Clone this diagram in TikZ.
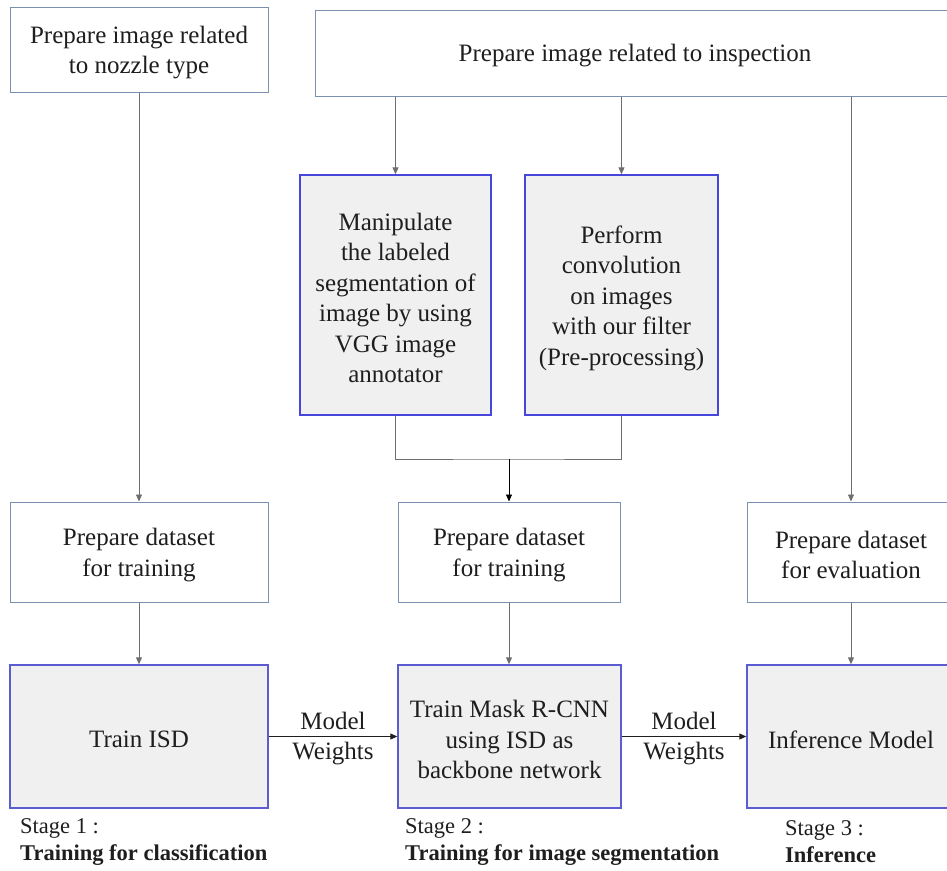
\documentclass[tikz,border=0pt]{standalone}
\usepackage{fontspec}
\setmainfont{Liberation Serif}
\usetikzlibrary{arrows.meta}

\definecolor{plainedge}{HTML}{7A90B0}
\definecolor{stepedge}{HTML}{4646DC}
\definecolor{trainedge}{HTML}{5C5CD2}
\definecolor{stepfill}{HTML}{F0F0F0}
\definecolor{wire}{HTML}{6E6E6E}
\definecolor{ink}{HTML}{1E1E1E}

\tikzset{
  every node/.style={text=ink, font=\fontsize{25}{30.5}\selectfont, align=center, inner sep=0pt},
  plainbox/.style={draw=plainedge, line width=1pt, fill=white, rectangle},
  stepbox/.style={draw=stepedge, line width=1.4pt, fill=stepfill, rectangle},
  trainbox/.style={draw=trainedge, line width=1.4pt, fill=stepfill, rectangle},
  % box text sits a little below the geometric centre
  caption/.style={label={[yshift=-3pt]center:{#1}}},
  wireline/.style={draw=wire, line width=0.9pt},
  flow/.style={wireline, -{Triangle[length=7pt,width=6pt]}},
  stagelabel/.style={anchor=west, align=left, font=\fontsize{22.5}{27}\selectfont},
}

\begin{document}
\begin{tikzpicture}[x=1pt, y=-1pt]
  \useasboundingbox (0,0) rectangle (947,870);
  \clip (0,0) rectangle (947,870);

  % sources
  \node[plainbox, minimum width=258pt, minimum height=85pt,
        caption={Prepare image related\\to nozzle type}] (nozzle) at (139,49.5) {};
  \node[plainbox, minimum width=640pt, minimum height=86pt,
        caption={Prepare image related to inspection}] (inspect) at (635,53) {};

  % pre-processing steps
  \node[stepbox, minimum width=191pt, minimum height=240pt,
        caption={Manipulate\\the labeled\\segmentation of\\image by using\\VGG image\\annotator}]
        (annot) at (395.5,295) {};
  \node[stepbox, minimum width=193pt, minimum height=240pt,
        caption={Perform\\convolution\\on images\\with our filter\\(Pre-processing)}]
        (conv) at (621.5,295) {};

  % datasets
  \node[plainbox, minimum width=258pt, minimum height=100pt,
        caption={Prepare dataset\\for training}] (ds1) at (139,552) {};
  \node[plainbox, minimum width=222pt, minimum height=100pt,
        caption={Prepare dataset\\for training}] (ds2) at (509,552) {};
  \node[plainbox, minimum width=208pt, minimum height=100pt,
        caption={Prepare dataset\\for evaluation}] (ds3) at (851,552) {};

  % models
  \node[trainbox, minimum width=258pt, minimum height=143pt,
        caption={Train ISD}] (isd) at (139,736.5) {};
  \node[trainbox, minimum width=223pt, minimum height=143pt,
        caption={Train Mask R-CNN\\using ISD as\\backbone network}] (mrcnn) at (509.5,736.5) {};
  \node[trainbox, minimum width=208pt, minimum height=143pt,
        caption={Inference Model}] (infer) at (851,736.5) {};

  % stage captions
  \node[stagelabel] (st1) at (20,842) {Stage 1 :\\\textbf{Training for classification}};
  \node[stagelabel] (st2) at (405,842) {Stage 2 :\\\textbf{Training for image segmentation}};
  \node[stagelabel] (st3) at (785,842) {Stage 3 :\\\textbf{Inference}};

  % connectors
  \draw[flow] (nozzle.south) -- (ds1.north);
  \draw[flow] (inspect.south -| annot.north) -- (annot.north);
  \draw[flow] (inspect.south -| conv.north) -- (conv.north);
  \draw[flow] (inspect.south -| ds3.north) -- (ds3.north);

  \coordinate (merge) at (509,459);
  \draw[wireline] (annot.south) |- (merge) -| (conv.south);
  \draw[flow, draw=black] (merge) -- (ds2.north);

  \draw[flow] (ds1.south) -- (isd.north);
  \draw[flow] (ds2.south) -- (ds2.south |- mrcnn.north);
  \draw[flow] (ds3.south) -- (infer.north);

  \draw[flow, draw=ink] (isd.east) -- (mrcnn.west)
    node[midway, yshift=-2pt] (w1) {Model\\Weights};
  \draw[flow, draw=ink] (mrcnn.east) -- (infer.west)
    node[midway, yshift=-2pt] (w2) {Model\\Weights};
\end{tikzpicture}
\end{document}
